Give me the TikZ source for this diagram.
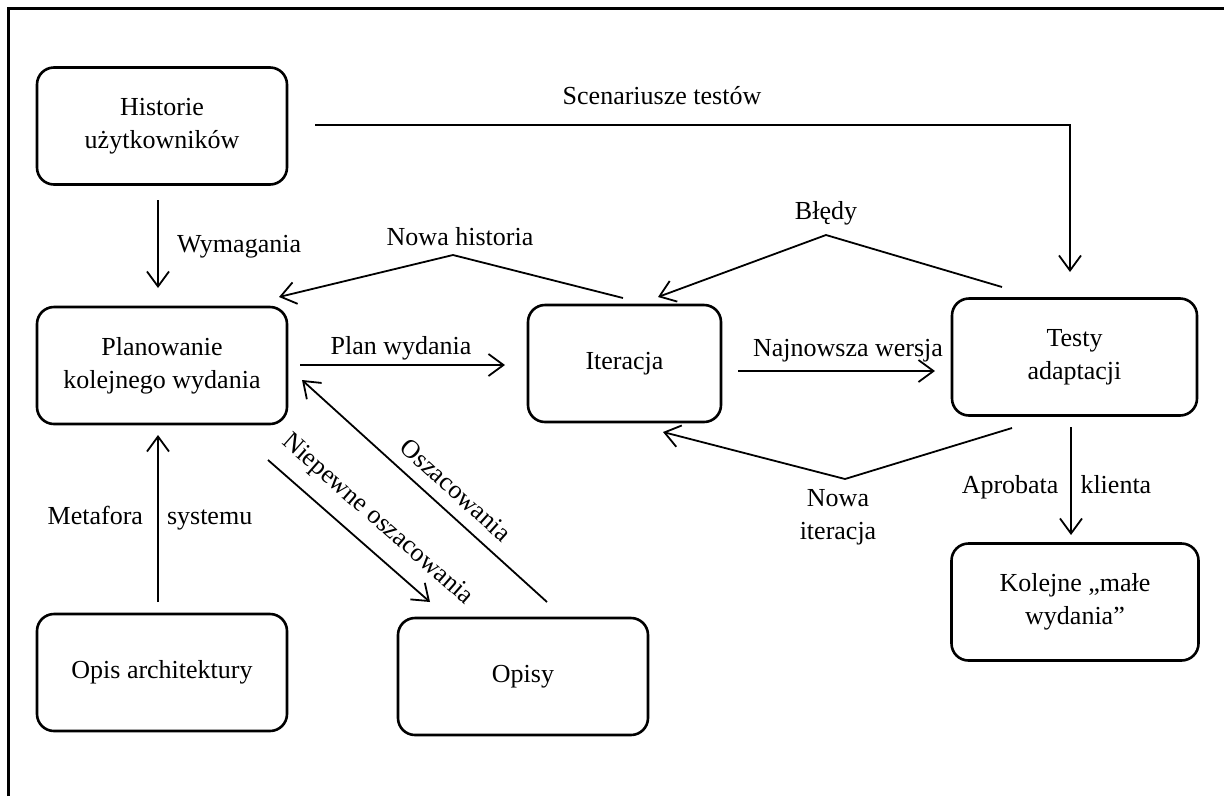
\documentclass[tikz,border=0pt]{standalone}
\usepackage{fontspec}
\setmainfont{Liberation Serif}
\usetikzlibrary{arrows.meta}
\begin{document}
\begin{tikzpicture}[x=1pt,y=-1pt,
  every node/.style={font=\fontsize{26}{33}\selectfont, inner sep=0pt, outer sep=0pt},
  box/.style={draw, line width=2.6pt, rounded corners=17pt, align=center,
              minimum width=250pt, minimum height=117pt},
  link/.style={line width=1.8pt, line join=miter,
               -{Straight Barb[length=15pt,width=22pt,line width=1.8pt]}},
  lbl/.style={align=center}]
\useasboundingbox (0,0) rectangle (1224,796);

% page frame (top and left edges)
\draw[line width=3pt] (8,796) -- (8,8) -- (1224,8);

% process boxes
\node[box] (hist) at (162,126) {Historie\\użytkowników};
\node[box] (plan) at (162,365.5) {Planowanie\\kolejnego wydania};
\node[box] (arch) at (162,672.5) {Opis architektury};
\node[box] (opisy) at (523,676.5) {Opisy};
\node[box, minimum width=193pt] (iter) at (624.5,363.5) {Iteracja};
\node[box, minimum width=245pt] (testy) at (1074.5,357) {Testy\\adaptacji};
\node[box, minimum width=247pt] (kolejne) at (1075,602) {Kolejne „małe\\wydania”};

% connector end points
\coordinate (wym-a) at (158,200);   \coordinate (wym-b) at (158,288);
\coordinate (scen-a) at (315,125);  \coordinate (scen-k) at (1070,125);
\coordinate (scen-b) at (1070,272);
\coordinate (nh-a) at (623,298);    \coordinate (nh-k) at (453,255);
\coordinate (nh-b) at (279,297);
\coordinate (bl-a) at (1002,287);   \coordinate (bl-k) at (826,235);
\coordinate (bl-b) at (658,297);
\coordinate (pw-a) at (300,365);    \coordinate (pw-b) at (505,365);
\coordinate (nw-a) at (738,371);    \coordinate (nw-b) at (935,371);
\coordinate (ni-a) at (1012,428);   \coordinate (ni-k) at (845,479);
\coordinate (ni-b) at (663,432);
\coordinate (ap-a) at (1071,427);   \coordinate (ap-b) at (1071,535);
\coordinate (ms-a) at (158,602);    \coordinate (ms-b) at (158,435);
\coordinate (no-a) at (268,460);    \coordinate (no-b) at (430,602);
\coordinate (os-a) at (547,602);    \coordinate (os-b) at (302,380);

% connectors
\draw[link] (wym-a) -- (wym-b);
\draw[link] (scen-a) -- (scen-k) -- (scen-b);
\draw[link] (nh-a) -- (nh-k) -- (nh-b);
\draw[link] (bl-a) -- (bl-k) -- (bl-b);
\draw[link] (pw-a) -- (pw-b);
\draw[link] (nw-a) -- (nw-b);
\draw[link] (ni-a) -- (ni-k) -- (ni-b);
\draw[link] (ap-a) -- (ap-b);
\draw[link] (ms-a) -- (ms-b);
\draw[link] (no-a) -- (no-b);
\draw[link] (os-a) -- (os-b);

% connector labels
\node[anchor=base west] (l-wym) at (177,252) {Wymagania};
\node[anchor=base] (l-scen) at (662,104) {Scenariusze testów};
\node[anchor=base] (l-nh) at (460,245) {Nowa historia};
\node[anchor=base] (l-bl) at (826,219) {Błędy};
\node[anchor=base] (l-pw) at (401,354) {Plan wydania};
\node[anchor=base] (l-nw) at (848,356) {Najnowsza wersja};
\node[lbl, anchor=north] (l-ni) at (838,489) {Nowa\\iteracja};
\node[anchor=base] (l-ap) at (1056.5,493) {Aprobata\hspace{22pt}klienta};
\node[anchor=base] (l-ms) at (150,524) {Metafora\hspace{24pt}systemu};
\node[rotate=-41.2] (l-no) at (377,520) {Niepewne oszacowania};
\node[rotate=-42.2] (l-os) at (456,490) {Oszacowania};
\end{tikzpicture}
\end{document}
